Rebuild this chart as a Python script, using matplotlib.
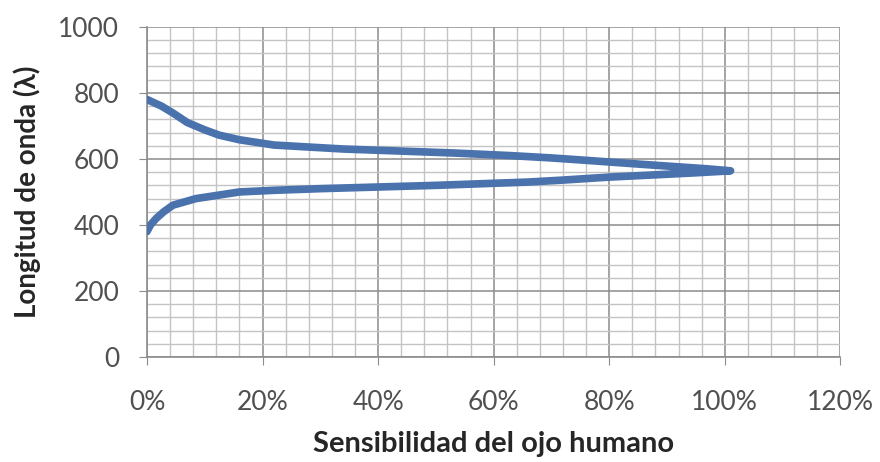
import matplotlib
matplotlib.use("Agg")
import matplotlib.pyplot as plt
from matplotlib.ticker import MultipleLocator, PercentFormatter

# curve, walked along the wavelength
wavelength = [380, 400, 420, 440, 460, 480, 500, 505, 510, 515, 520, 530, 536,
              545, 551, 558, 564, 570, 582, 597, 603, 610, 618, 625, 630, 642,
              658, 672, 688, 710, 739, 760, 780]
sensitivity = [0.0, 0.6, 1.6, 2.9, 4.5, 8.5, 16.0, 22.0, 30.0, 40.0, 50.0, 66.0, 72.0,
               80.0, 87.0, 95.0, 101.0, 97.0, 87.0, 75.0, 70.0, 63.0, 53.0, 42.0, 34.0, 22.0,
               16.0, 12.5, 10.0, 7.0, 4.5, 2.5, 0.0]

x_ticks = [0, 20, 40, 60, 80, 100, 120]
y_ticks = [0, 200, 400, 600, 800, 1000]

plt.rcParams['font.family'] = ['Lato', 'DejaVu Sans']

fig = plt.figure(figsize=(8.8, 4.62), dpi=100)
ax = fig.add_axes([0.167, 0.227, 0.788, 0.715])

ax.plot(sensitivity, wavelength, color='#4a72ad', lw=5.5, solid_capstyle='round',
        solid_joinstyle='round', zorder=3)

ax.set_xlim(0, 120)
ax.set_ylim(0, 1000)
ax.set_xticks(x_ticks)
ax.set_yticks(y_ticks)
ax.xaxis.set_major_formatter(PercentFormatter(decimals=0))
ax.xaxis.set_minor_locator(MultipleLocator(4))
ax.yaxis.set_minor_locator(MultipleLocator(40))

ax.grid(which='major', color='#8c8c8c', lw=1.1)
ax.grid(which='minor', color='#c4c4c4', lw=1.0)
ax.set_axisbelow(True)

for s in ['top', 'right']:
    ax.spines[s].set_visible(False)
for s in ['left', 'bottom']:
    ax.spines[s].set_color('#8c8c8c')
    ax.spines[s].set_linewidth(1.2)

ax.tick_params(which='major', direction='out', length=6, color='#8c8c8c',
               labelsize=19, labelcolor='#505050')
ax.tick_params(axis='x', pad=18)
ax.tick_params(axis='y', pad=14)
ax.tick_params(which='minor', length=0)

ax.set_xlabel('Sensibilidad del ojo humano', fontsize=21, fontweight='bold',
              color='#262626', va='center')
ax.set_ylabel('Longitud de onda (λ)', fontsize=20, fontweight='bold',
              color='#262626', va='center')
ax.xaxis.set_label_coords(0.5, -0.264)
ax.yaxis.set_label_coords(-0.173, 0.5)

fig.savefig('out.png', dpi=100)
